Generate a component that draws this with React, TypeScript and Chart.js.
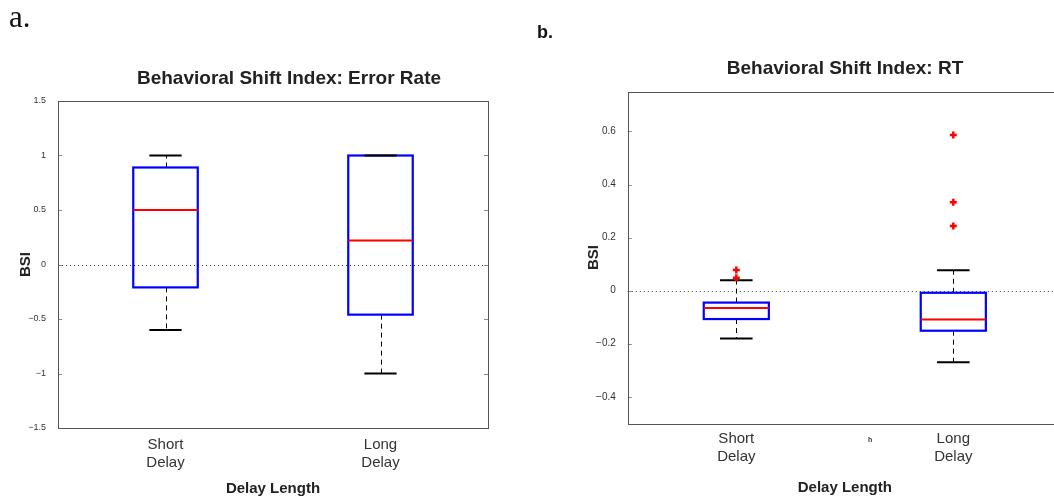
import React, { useEffect, useRef } from "react";
import { Chart, registerables } from "chart.js";

Chart.register(...registerables);

// ---------- data ----------
const categories = [["Short", "Delay"], ["Long", "Delay"]];
const positions = [1, 2];

// Panel a: error rate
const errMin = [-0.6, -1.0];
const errQ1 = [-0.21, -0.46];
const errMedian = [0.5, 0.22];
const errQ3 = [0.89, 1.0];
const errMax = [1.0, 1.0];
const errOutliers: number[][] = [[], []];
const errTicks = [-1.5, -1, -0.5, 0, 0.5, 1, 1.5];

// Panel b: RT
const rtMin = [-0.18, -0.27];
const rtQ1 = [-0.107, -0.151];
const rtMedian = [-0.065, -0.109];
const rtQ3 = [-0.045, -0.008];
const rtMax = [0.039, 0.077];
const rtOutliers: number[][] = [[0.078, 0.049], [0.587, 0.333, 0.244]];
const rtTicks = [-0.4, -0.2, 0, 0.2, 0.4, 0.6];

const FONT = "'Liberation Sans', Arial, Helvetica, sans-serif";

const fmt = (v: number) => {
  const s = String(Math.round(v * 100) / 100);
  return s.startsWith("-") ? "\u2212" + s.slice(1) : s;
};

const boxPlugin = {
  id: "boxplot",
  beforeDatasetsDraw(chart: any, _args: any, opts: any) {
    const { ctx, chartArea: a, scales } = chart;
    const x = scales.x;
    const y = scales.y;
    ctx.save();
    // zero reference line
    const y0 = Math.round(y.getPixelForValue(0)) + 0.5;
    ctx.setLineDash([1, 3]);
    ctx.strokeStyle = "#333";
    ctx.lineWidth = 1;
    ctx.beginPath();
    ctx.moveTo(a.left, y0);
    ctx.lineTo(a.right, y0);
    ctx.stroke();

    const line = (x1: number, y1: number, x2: number, y2: number) => {
      ctx.beginPath();
      ctx.moveTo(x1, y1);
      ctx.lineTo(x2, y2);
      ctx.stroke();
    };
    const s = opts.stats;
    for (let i = 0; i < s.pos.length; i++) {
      const p = s.pos[i];
      const xc = Math.round(x.getPixelForValue(p)) + 0.5;
      const xl = x.getPixelForValue(p - 0.15);
      const xr = x.getPixelForValue(p + 0.15);
      const cl = x.getPixelForValue(p - 0.075);
      const cr = x.getPixelForValue(p + 0.075);
      const pMin = y.getPixelForValue(s.min[i]);
      const pQ1 = y.getPixelForValue(s.q1[i]);
      const pMed = y.getPixelForValue(s.med[i]);
      const pQ3 = y.getPixelForValue(s.q3[i]);
      const pMax = y.getPixelForValue(s.max[i]);
      // whiskers
      ctx.setLineDash([5, 4]);
      ctx.strokeStyle = "#000";
      ctx.lineWidth = 1;
      if (pMax < pQ3) line(xc, pQ3, xc, pMax);
      if (pMin > pQ1) line(xc, pQ1, xc, pMin);
      ctx.setLineDash([]);
      // box
      ctx.strokeStyle = "#0000ff";
      ctx.lineWidth = 2.2;
      ctx.strokeRect(xl, pQ3, xr - xl, pQ1 - pQ3);
      // caps
      ctx.strokeStyle = "#000";
      ctx.lineWidth = 2;
      line(cl, pMax, cr, pMax);
      line(cl, pMin, cr, pMin);
      // median
      ctx.strokeStyle = "#ff0000";
      ctx.lineWidth = 2;
      line(xl, pMed, xr, pMed);
    }
    ctx.restore();
  },
  afterDraw(chart: any) {
    const { ctx, chartArea: a, scales } = chart;
    const y = scales.y;
    ctx.save();
    ctx.strokeStyle = "#888";
    ctx.lineWidth = 1;
    for (const t of y.ticks) {
      const py = Math.round(y.getPixelForValue(t.value)) + 0.5;
      ctx.beginPath();
      ctx.moveTo(a.left, py);
      ctx.lineTo(a.left + 4, py);
      ctx.moveTo(a.right, py);
      ctx.lineTo(a.right - 4, py);
      ctx.stroke();
    }
    ctx.strokeStyle = "#555";
    ctx.strokeRect(Math.round(a.left) + 0.5, Math.round(a.top) + 0.5, Math.round(a.right - a.left), Math.round(a.bottom - a.top));
    ctx.restore();
  },
};

function makeConfig(p: any) {
  const outlierPoints: { x: number; y: number }[] = [];
  p.outliers.forEach((list: number[], i: number) =>
    list.forEach((v) => outlierPoints.push({ x: positions[i], y: v }))
  );
  return {
    type: "scatter",
    data: {
      datasets: [
        {
          label: "outliers",
          data: outlierPoints,
          pointStyle: "cross",
          radius: 3.5,
          borderColor: "#ff0000",
          backgroundColor: "#ff0000",
          borderWidth: 2.5,
        },
      ],
    },
    plugins: [boxPlugin],
    options: {
      responsive: false,
      animation: false,
      events: [],
      layout: { padding: 0 },
      font: { family: FONT },
      plugins: {
        legend: { display: false },
        tooltip: { enabled: false },
        title: {
          display: true,
          text: p.title,
          color: "#222",
          font: { family: FONT, size: 19, weight: "bold" },
          padding: { top: p.titleTop, bottom: p.titleBottom },
        },
        boxplot: {
          stats: { pos: positions, min: p.min, q1: p.q1, med: p.med, q3: p.q3, max: p.max },
        },
      },
      scales: {
        x: {
          type: "linear",
          min: 0.5,
          max: 2.5,
          grid: { display: false },
          border: { display: false },
          afterBuildTicks: (s: any) => {
            s.ticks = positions.map((v) => ({ value: v }));
          },
          afterFit: (s: any) => {
            s.height = p.xAxisHeight;
          },
          ticks: {
            color: "#333",
            padding: p.xTickPad,
            maxRotation: 0,
            autoSkip: false,
            font: { family: FONT, size: 15 },
            callback: (_v: any, i: number) => categories[i],
          },
          title: {
            display: true,
            text: "Delay Length",
            color: "#222",
            font: { family: FONT, size: 15, weight: "bold" },
            padding: { top: 0, bottom: p.xTitlePad },
          },
        },
        y: {
          type: "linear",
          position: "left",
          min: p.yMin,
          max: p.yMax,
          grid: { display: false },
          border: { display: false },
          afterBuildTicks: (s: any) => {
            s.ticks = p.ticks.map((v: number) => ({ value: v }));
          },
          afterFit: (s: any) => {
            s.width = p.yAxisWidth;
          },
          ticks: {
            color: "#333",
            padding: 4,
            autoSkip: false,
            font: { family: FONT, size: p.yTickSize },
            callback: (v: any) => fmt(Number(v)),
          },
          title: {
            display: true,
            text: "BSI",
            color: "#222",
            font: { family: FONT, size: 15, weight: "bold" },
            padding: { top: p.yTitlePad, bottom: 0 },
          },
        },
        spacer: {
          type: "linear",
          position: "right",
          display: true,
          grid: { display: false },
          border: { display: false },
          ticks: { display: false },
          afterFit: (s: any) => {
            s.width = p.rightSpace;
          },
        },
      },
    },
  };
}

export default function App() {
  const refA = useRef<HTMLCanvasElement | null>(null);
  const refB = useRef<HTMLCanvasElement | null>(null);

  useEffect(() => {
    const a = new Chart(
      refA.current as HTMLCanvasElement,
      makeConfig({
        title: "Behavioral Shift Index: Error Rate",
        min: errMin,
        q1: errQ1,
        med: errMedian,
        q3: errQ3,
        max: errMax,
        outliers: errOutliers,
        ticks: errTicks,
        yMin: -1.5,
        yMax: 1.5,
        yTickSize: 9,
        titleTop: 67.6,
        titleBottom: 10.6,
        xAxisHeight: 73,
        xTickPad: 0,
        xTitlePad: 3,
        yAxisWidth: 58,
        yTitlePad: 16.5,
        rightSpace: 90,
      }) as any
    );
    const b = new Chart(
      refB.current as HTMLCanvasElement,
      makeConfig({
        title: "Behavioral Shift Index: RT",
        min: rtMin,
        q1: rtQ1,
        med: rtMedian,
        q3: rtQ3,
        max: rtMax,
        outliers: rtOutliers,
        ticks: rtTicks,
        yMin: -0.5,
        yMax: 0.75,
        yTickSize: 10,
        titleTop: 57.6,
        titleBottom: 11.3,
        xAxisHeight: 77.7,
        xTickPad: -1,
        xTitlePad: 4,
        yAxisWidth: 100.8,
        yTitlePad: 57.5,
        rightSpace: 101.2,
      }) as any
    );
    return () => {
      a.destroy();
      b.destroy();
    };
  }, []);

  return (
    <div
      style={{
        position: "absolute",
        left: 0,
        top: 0,
        width: 1054,
        height: 501,
        overflow: "hidden",
        background: "#fff",
      }}
    >
      <canvas
        ref={refA}
        width={578}
        height={501}
        style={{ position: "absolute", left: 0, top: 0, width: 578, height: 501 }}
      />
      <canvas
        ref={refB}
        width={636}
        height={501}
        style={{ position: "absolute", left: 527, top: 0, width: 636, height: 501 }}
      />
      <div
        style={{
          position: "absolute",
          left: 9,
          top: 1,
          fontFamily: "'Liberation Serif', 'Times New Roman', serif",
          fontSize: 31,
          lineHeight: "31px",
          color: "#111",
        }}
      >
        a.
      </div>
      <div
        style={{
          position: "absolute",
          left: 537,
          top: 22.8,
          fontFamily: FONT,
          fontWeight: "bold",
          fontSize: 18,
          lineHeight: "18px",
          color: "#111",
        }}
      >
        b.
      </div>
      <div
        style={{
          position: "absolute",
          left: 868,
          top: 436,
          fontFamily: FONT,
          fontWeight: "bold",
          fontSize: 7,
          lineHeight: "7px",
          color: "#333",
        }}
      >
        h
      </div>
    </div>
  );
}
